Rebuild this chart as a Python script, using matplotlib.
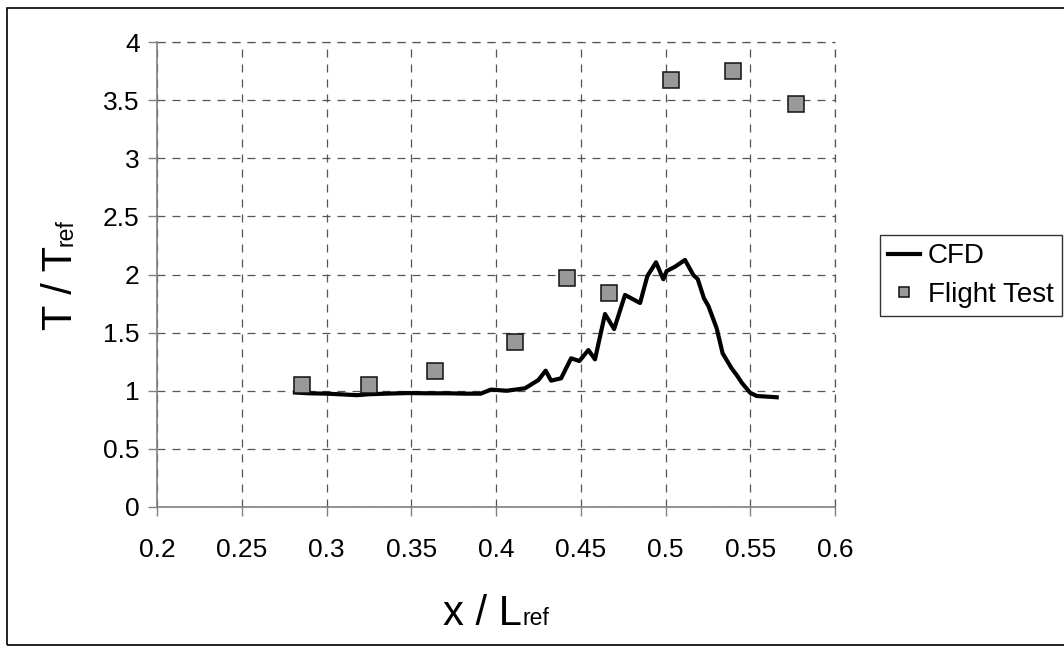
import matplotlib.pyplot as plt
from matplotlib.patches import Rectangle
from matplotlib.transforms import IdentityTransform

plt.rcParams['font.family'] = ['Liberation Sans', 'DejaVu Sans']

# CFD curve
cfd_x = [0.2814, 0.290, 0.300, 0.310, 0.318, 0.325, 0.335, 0.348, 0.360, 0.372,
         0.382, 0.391, 0.397, 0.4063, 0.4171, 0.425, 0.4293, 0.4325, 0.4384, 0.4443,
         0.4492, 0.4545, 0.4584, 0.4643, 0.4697, 0.4761, 0.485, 0.4893, 0.4944, 0.4987,
         0.5007, 0.5056, 0.5115, 0.5164, 0.519, 0.5227, 0.5253, 0.5302, 0.5337, 0.539,
         0.542, 0.545, 0.5499, 0.5538, 0.5656]
cfd_y = [0.985, 0.978, 0.975, 0.968, 0.962, 0.970, 0.975, 0.980, 0.978, 0.978,
         0.975, 0.975, 1.010, 1.000, 1.021, 1.092, 1.173, 1.087, 1.107, 1.279,
         1.256, 1.350, 1.270, 1.660, 1.531, 1.824, 1.755, 1.987, 2.105, 1.959,
         2.030, 2.067, 2.125, 1.996, 1.961, 1.795, 1.729, 1.537, 1.322, 1.193,
         1.135, 1.069, 0.983, 0.955, 0.944]

# flight test points
ft_x = [0.2855, 0.3253, 0.364, 0.411, 0.4417, 0.4669, 0.503, 0.540, 0.577]
ft_y = [1.050, 1.050, 1.172, 1.417, 1.971, 1.842, 3.677, 3.752, 3.463]

xticks = [0.2, 0.25, 0.3, 0.35, 0.4, 0.45, 0.5, 0.55, 0.6]
xticklabels = ['0.2', '0.25', '0.3', '0.35', '0.4', '0.45', '0.5', '0.55', '0.6']
yticks = [0, 0.5, 1, 1.5, 2, 2.5, 3, 3.5, 4]
yticklabels = ['0', '0.5', '1', '1.5', '2', '2.5', '3', '3.5', '4']

W, H = 1064, 653
fig = plt.figure(figsize=(W / 100, H / 100), dpi=100)
ax = fig.add_axes([157 / W, 1 - 507 / H, (835 - 157) / W, (507 - 42) / H])

ax.plot(cfd_x, cfd_y, color='black', lw=3.0, label='CFD', zorder=3)
ax.plot(ft_x, ft_y, ls='none', marker='s', ms=11, mfc='#999999', mec='#111111',
        mew=1.1, label='Flight Test', zorder=4)

ax.set_xlim(0.2, 0.6)
ax.set_ylim(0, 4)
ax.set_xticks(xticks)
ax.set_xticklabels(xticklabels)
ax.set_yticks(yticks)
ax.set_yticklabels(yticklabels)
ax.tick_params(labelsize=19, length=6.5, width=1, color='#808080', direction='out')
ax.tick_params(axis='x', pad=16)
ax.tick_params(axis='y', pad=6)

dash = (0, (6.4, 5.6))
ax.grid(True, color='#555555', ls=dash, lw=0.9)
ax.set_axisbelow(True)
for s in ['top', 'right']:
    ax.spines[s].set_visible(False)
for s in ['left', 'bottom']:
    ax.spines[s].set_color('#808080')
    ax.spines[s].set_linewidth(1.2)
ax.axhline(4, color='#555555', ls=dash, lw=0.9, clip_on=False)
ax.axvline(0.6, color='#555555', ls=dash, lw=0.9, clip_on=False)

leg = fig.legend(loc='upper left', bbox_to_anchor=(880 / W, 1 - 235 / H),
                 fontsize=20, frameon=True, fancybox=False, edgecolor='black',
                 handlelength=1.15, handletextpad=0.28, borderpad=0.3,
                 labelspacing=0.45, borderaxespad=0, markerscale=0.7)
leg.get_frame().set_linewidth(1.0)

# outer chart border
fig.patches.append(Rectangle((7 / W, 8 / H), 1.2, 1 - 16 / H, transform=fig.transFigure,
                             fill=False, edgecolor='black', lw=1.2))

# axis titles with small "ref" subscript on the baseline
fig.canvas.draw()
r = fig.canvas.get_renderer()
px = IdentityTransform()

xa = fig.text(0, 0, 'x / L', fontsize=30, transform=px, va='baseline')
xb = fig.text(0, 0, 'ref', fontsize=16.5, transform=px, va='baseline')
w1 = xa.get_window_extent(r).width
w2 = xb.get_window_extent(r).width
x0 = 496 - (w1 + w2) / 2
xa.set_position((x0, H - 625))
xb.set_position((x0 + w1, H - 625))

ya = fig.text(0, 0, 'T / T', fontsize=30, transform=px, rotation=90,
              rotation_mode='anchor', ha='left', va='baseline')
yb = fig.text(0, 0, 'ref', fontsize=16.5, transform=px, rotation=90,
              rotation_mode='anchor', ha='left', va='baseline')
h1 = ya.get_window_extent(r).height
h2 = yb.get_window_extent(r).height
y0 = (H - 274.5) - (h1 + h2) / 2
ya.set_position((72, y0))
yb.set_position((72, y0 + h1))

fig.savefig('out.png', dpi=100)
